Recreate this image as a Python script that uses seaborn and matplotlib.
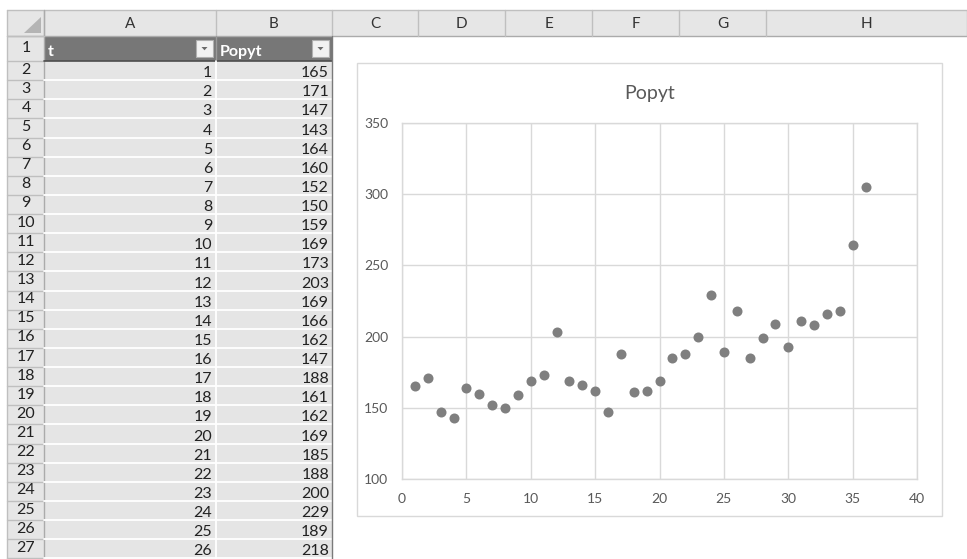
import matplotlib
matplotlib.use("Agg")
import matplotlib.pyplot as plt
from matplotlib.patches import Rectangle, Polygon
import seaborn as sns
import pandas as pd

# ---- data ----
t = list(range(1, 37))
popyt = [165, 171, 147, 143, 164, 160, 152, 150, 159, 169,
         173, 203, 169, 166, 162, 147, 188, 161, 162, 169,
         185, 188, 200, 229, 189, 218, 185, 199, 209, 193,
         211, 208, 216, 218, 264, 305]
col_letters = ["A", "B", "C", "D", "E", "F", "G", "H"]
headers = ["t", "Popyt"]
x_ticks = [0, 5, 10, 15, 20, 25, 30, 35, 40]
y_ticks = [100, 150, 200, 250, 300, 350]
title = "Popyt"

df = pd.DataFrame({"t": t, "Popyt": popyt})

sns.set_theme(style="white")
plt.rcParams["font.family"] = ["Lato", "DejaVu Sans"]

W, H = 967, 559
fig = plt.figure(figsize=(W / 100, H / 100), dpi=100)
bg = fig.add_axes([0, 0, 1, 1])
bg.set_xlim(0, W)
bg.set_ylim(H, 0)
bg.axis("off")

# layout (pixels)
col_edges = [44, 216, 332, 418, 505, 592, 679, 766, 967]
hdr_top, hdr_bot = 10, 36
row1_top, row1_bot = 36, 61
row_h = 19.13
rh_left, rh_right = 7, 44
n_rows_vis = 26

hdr_fill = "#e6e6e6"
hdr_line = "#bfbfbf"
cell_fs = 11.5

# column header strip
bg.add_patch(Rectangle((rh_left, hdr_top), W - rh_left, hdr_bot - hdr_top,
                       facecolor=hdr_fill, edgecolor="none"))
bg.plot([rh_left, W], [hdr_top, hdr_top], color=hdr_line, lw=1)
bg.plot([rh_left, W], [hdr_bot, hdr_bot], color="#ababab", lw=1)
bg.plot([rh_left, rh_left], [hdr_top, H], color=hdr_line, lw=1)
for x in col_edges:
    bg.plot([x, x], [hdr_top, hdr_bot], color=hdr_line, lw=1)
for i, letter in enumerate(col_letters):
    cx = (col_edges[i] + col_edges[i + 1]) / 2
    bg.text(cx, (hdr_top + hdr_bot) / 2 + 1, letter, ha="center", va="center",
            fontsize=11, color="#333333")
# corner triangle
bg.add_patch(Polygon([[41, 17], [41, 33], [24, 33]], closed=True,
                     facecolor="#b4b4b4", edgecolor="none"))

# row header column
bg.add_patch(Rectangle((rh_left, hdr_bot), rh_right - rh_left, H - hdr_bot,
                       facecolor=hdr_fill, edgecolor="none"))
bg.plot([rh_right, rh_right], [hdr_top, H], color="#ababab", lw=1)
row_edges = [row1_top, row1_bot] + [row1_bot + row_h * (k + 1) for k in range(n_rows_vis)]
for y in row_edges:
    bg.plot([rh_left, rh_right], [y, y], color=hdr_line, lw=1)
for k in range(len(row_edges) - 1):
    y0, y1 = row_edges[k], row_edges[k + 1]
    bg.text(26, (y0 + y1) / 2 - 1, str(k + 1), ha="center", va="center",
            fontsize=cell_fs, color="#222222")

# table header row
bg.add_patch(Rectangle((col_edges[0], row1_top), col_edges[2] - col_edges[0],
                       row1_bot - row1_top, facecolor="#777777", edgecolor="none"))
bg.plot([col_edges[1], col_edges[1]], [row1_top, row1_bot], color="#9a9a9a", lw=1)
bg.text(col_edges[0] + 4, row1_bot - 5, headers[0], ha="left", va="baseline",
        fontsize=cell_fs, color="white", fontweight="bold")
bg.text(col_edges[1] + 4, row1_bot - 5, headers[1], ha="left", va="baseline",
        fontsize=cell_fs, color="white", fontweight="bold")
for right in (col_edges[1] - 3, col_edges[2] - 3):
    bx0, bx1, by0, by1 = right - 17, right, row1_top + 4, row1_bot - 4
    bg.add_patch(Rectangle((bx0, by0), bx1 - bx0, by1 - by0,
                           facecolor="#f2f2f2", edgecolor="#b0b0b0", lw=0.8))
    cx, cy = (bx0 + bx1) / 2, (by0 + by1) / 2
    bg.add_patch(Polygon([[cx - 3, cy - 1.5], [cx + 3, cy - 1.5], [cx, cy + 1.8]],
                         closed=True, facecolor="#6b6b6b", edgecolor="none"))
bg.plot([col_edges[0], col_edges[2]], [row1_bot, row1_bot], color="#4d4d4d", lw=1.2)

# table body
body_top = row1_bot
bg.add_patch(Rectangle((col_edges[0], body_top), col_edges[2] - col_edges[0],
                       H - body_top, facecolor="#e5e5e5", edgecolor="none"))
for k in range(n_rows_vis):
    y1 = body_top + row_h * (k + 1)
    bg.plot([col_edges[0], col_edges[2]], [y1, y1], color="white", lw=1.3)
    bg.text(col_edges[1] - 4, y1 - 3, str(t[k]), ha="right", va="baseline",
            fontsize=cell_fs, color="#222222")
    bg.text(col_edges[2] - 3, y1 - 3, str(popyt[k]), ha="right", va="baseline",
            fontsize=cell_fs, color="#222222")
bg.plot([col_edges[1], col_edges[1]], [body_top, H], color="white", lw=1.3)
bg.plot([col_edges[2], col_edges[2]], [row1_top, H], color="#7a7a7a", lw=1)

# chart frame
cx0, cy0, cx1, cy1 = 357, 63, 942, 516
bg.add_patch(Rectangle((cx0, cy0), cx1 - cx0, cy1 - cy0, facecolor="white",
                       edgecolor="#d9d9d9", lw=1))
bg.text((cx0 + cx1) / 2, 93, title, ha="center", va="center",
        fontsize=14, color="#595959")

# plot area
px0, py0, px1, py1 = 402, 123, 917, 479
ax = fig.add_axes([px0 / W, 1 - py1 / H, (px1 - px0) / W, (py1 - py0) / H])
ax.set_facecolor("white")
sns.scatterplot(data=df, x="t", y="Popyt", ax=ax, color="#7f7f7f",
                s=52, linewidth=0, zorder=3)
ax.set_xlim(0, 40)
ax.set_ylim(100, 350)
ax.set_xticks(x_ticks)
ax.set_yticks(y_ticks)
ax.set_xlabel("")
ax.set_ylabel("")
ax.grid(True, color="#d9d9d9", lw=1)
ax.set_axisbelow(True)
for s in ax.spines.values():
    s.set_color("#d9d9d9")
    s.set_linewidth(1)
ax.tick_params(axis="both", length=0, colors="#595959", labelsize=10)
ax.tick_params(axis="x", pad=10)
ax.tick_params(axis="y", pad=10)

fig.savefig("out.png", dpi=100)
